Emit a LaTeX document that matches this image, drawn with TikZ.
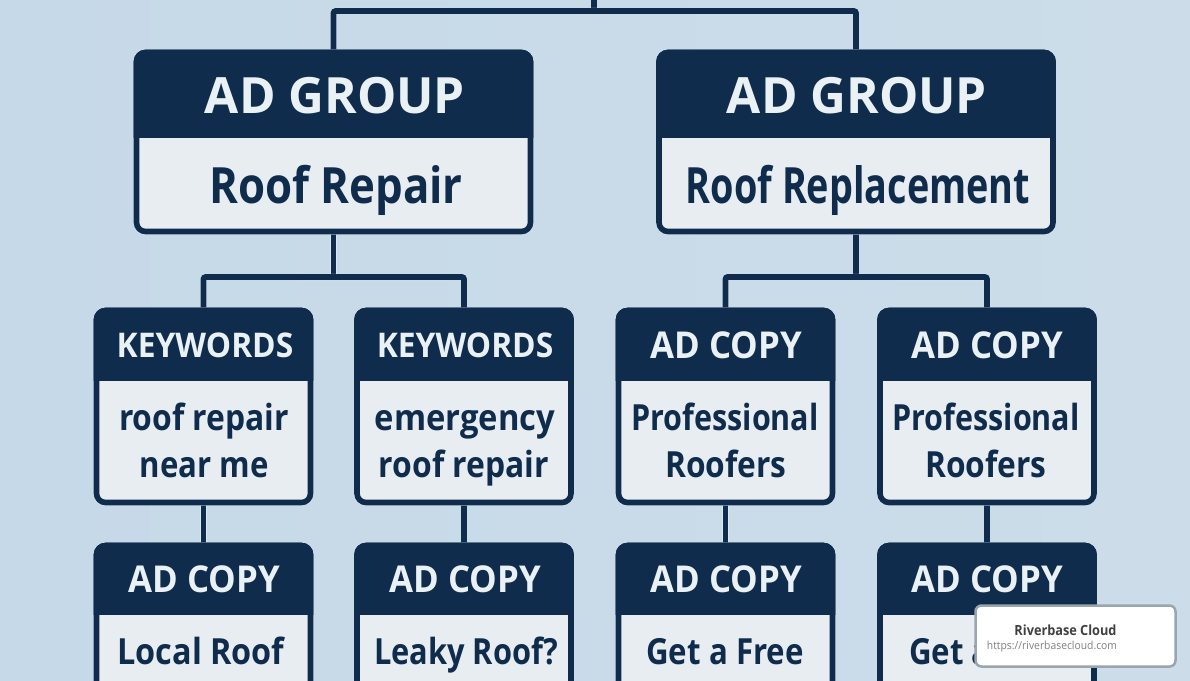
\documentclass[tikz,border=0pt]{standalone}
\usepackage{fontspec}
\setmainfont{Open Sans}
\usetikzlibrary{calc}
\pgfdeclarelayer{backdrop}
\pgfdeclarelayer{links}
\pgfsetlayers{backdrop,links,main}
\definecolor{navy}{HTML}{102C4C}
\definecolor{paper}{HTML}{E8EDF1}
\definecolor{halo}{HTML}{DCE8F0}
\definecolor{headtext}{HTML}{EAF1F5}
\definecolor{bgA}{HTML}{C6D9E8}
\definecolor{bgB}{HTML}{CCDDE9}
\definecolor{markgrey}{HTML}{9AA5AE}
\tikzset{
  cardbase/.style={draw=navy,line width=5.6,rounded corners=9,inner sep=0,outer sep=0},
  cardbody/.style={cardbase,fill=paper,preaction={draw=halo,line width=6.4}},
  cardhead/.style={cardbase,fill=navy},
  link/.style={draw=navy,line width=5.6,rounded corners=2,preaction={draw=halo,line width=6.4}},
  headbig/.style={anchor=base,inner sep=0,text=headtext,font=\fontsize{50}{50}\selectfont\bfseries},
  headkey/.style={anchor=base,inner sep=0,text=headtext,font=\fontsize{34}{34}\selectfont\bfseries},
  headcopy/.style={anchor=base,inner sep=0,text=headtext,font=\fontsize{37}{37}\selectfont\bfseries},
  bodybig/.style={anchor=base,inner sep=0,text=navy,font=\fontsize{50}{50}\selectfont\bfseries},
  bodysmall/.style={anchor=base,inner sep=0,text=navy,font=\fontsize{36}{36}\selectfont\bfseries},
}
\newcommand{\sx}[2]{\scalebox{#1}[1]{#2}}
\newcommand{\cardshape}[6]{%
  \node[cardbody,minimum width={#3-#2},minimum height={#5-#4}] (#1) at ({(#2+#3)/2},{(#4+#5)/2}) {};
  \begin{scope}
    \clip (#2-4,#4-4) rectangle (#3+4,#6);
    \node[cardhead,minimum width={#3-#2},minimum height={#5-#4}] (#1-head) at ({(#2+#3)/2},{(#4+#5)/2}) {};
  \end{scope}
}
\begin{document}
\begin{tikzpicture}[x=1pt,y=-1pt]
\useasboundingbox (0,0) rectangle (1190,680);
\begin{pgfonlayer}{backdrop}
\shade[left color=bgA,right color=bgB] (0,0) rectangle (1190,680);
\end{pgfonlayer}
\cardshape{g1}{136.5}{530.5}{52.5}{231.5}{137}
\cardshape{g2}{659}{1053}{52.5}{231.5}{137}
\cardshape{k1}{96.5}{310.5}{310.5}{502.5}{380}
\cardshape{k2}{357}{571}{310.5}{502.5}{380}
\cardshape{c1}{618.5}{832.5}{310.5}{502.5}{380}
\cardshape{c2}{880}{1094}{310.5}{502.5}{380}
\begin{scope}
\clip (0,0) rectangle (1190,680);
\cardshape{d1}{96.5}{310.5}{545.5}{760}{614}
\cardshape{d2}{357}{571}{545.5}{760}{614}
\cardshape{d3}{618.5}{832.5}{545.5}{760}{614}
\cardshape{d4}{880}{1094}{545.5}{760}{614}
\end{scope}
\coordinate (root) at (594,-5);
\coordinate (bus0) at (594,11);
\coordinate (bus1) at (333.5,277);
\coordinate (bus2) at (856,277);
\begin{pgfonlayer}{links}
\draw[link] (root) -- (bus0);
\draw[link] (g1.north) |- (bus0) -| (g2.north);
\draw[link] (g1.south) -- (bus1);
\draw[link] (k1.north) |- (bus1) -| (k2.north);
\draw[link] (g2.south) -- (bus2);
\draw[link] (c1.north) |- (bus2) -| (c2.north);
\draw[link] (k1.south) -- (k1.south |- d1.north);
\draw[link] (k2.south) -- (k2.south |- d2.north);
\draw[link] (c1.south) -- (c1.south |- d3.north);
\draw[link] (c2.south) -- (c2.south |- d4.north);
\end{pgfonlayer}
\node[headbig] (g1h) at (335,113) {\sx{0.99}{AD GROUP}};
\node[headbig] (g2h) at (857,113) {\sx{0.99}{AD GROUP}};
\node[bodybig] (g1t) at (336,203) {\sx{0.875}{Roof Repair}};
\node[bodybig] (g2t) at (858,203) {\sx{0.756}{Roof Replacement}};
\node[headkey] (k1h) at (205,357) {\sx{0.935}{KEYWORDS}};
\node[headkey] (k2h) at (465,357) {\sx{0.935}{KEYWORDS}};
\node[headcopy] (c1h) at (726,358) {\sx{0.94}{AD COPY}};
\node[headcopy] (c2h) at (987,358) {\sx{0.94}{AD COPY}};
\node[bodysmall] (k1a) at (204,430) {\sx{0.884}{roof repair}};
\node[bodysmall] (k1b) at (204,477) {\sx{0.865}{near me}};
\node[bodysmall] (k2a) at (465,430) {\sx{0.91}{emergency}};
\node[bodysmall] (k2b) at (464,477) {\sx{0.885}{roof repair}};
\node[bodysmall] (c1a) at (725,430) {\sx{0.847}{Professional}};
\node[bodysmall] (c1b) at (726,477) {\sx{0.88}{Roofers}};
\node[bodysmall] (c2a) at (986,430) {\sx{0.847}{Professional}};
\node[bodysmall] (c2b) at (986,477) {\sx{0.88}{Roofers}};
\node[headcopy] (d1h) at (204,592) {\sx{0.94}{AD COPY}};
\node[headcopy] (d2h) at (465,592) {\sx{0.94}{AD COPY}};
\node[headcopy] (d3h) at (726,592) {\sx{0.94}{AD COPY}};
\node[headcopy] (d4h) at (987,592) {\sx{0.94}{AD COPY}};
\node[bodysmall] (d1t) at (201,664) {\sx{0.90}{Local Roof}};
\node[bodysmall] (d2t) at (466,664) {\sx{0.855}{Leaky Roof?}};
\node[bodysmall] (d3t) at (725,664) {\sx{0.867}{Get a Free}};
\node[bodysmall,anchor=base west] (d4t) at (909,664) {\sx{0.867}{Get a}};
\node[draw=markgrey,line width=2.5,fill=white,rounded corners=6,minimum width=200,minimum height=61,inner sep=0,outer sep=0] (badge) at (1075.5,636) {};
\node[anchor=base,inner sep=0,text=black!75,font=\fontsize{14}{14}\selectfont\bfseries] (bt) at (1065.5,635) {\sx{0.91}{Riverbase Cloud}};
\node[anchor=base,inner sep=0,text=black!50,font=\fontsize{11}{11}\selectfont] (bu) at (1052,649) {\sx{0.94}{https://riverbasecloud.com}};
\end{tikzpicture}
\end{document}
